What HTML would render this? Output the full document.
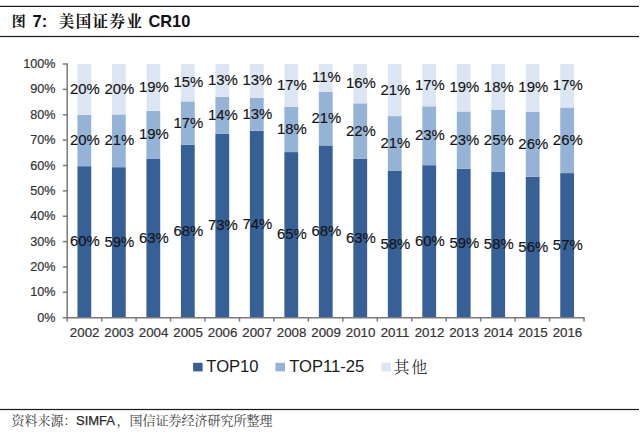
<!DOCTYPE html>
<html><head><meta charset="utf-8"><title>美国证券业 CR10</title>
<style>html,body{margin:0;padding:0;background:#fff;}body{width:640px;height:434px;overflow:hidden;}svg{display:block;}</style>
</head><body>
<svg width="640" height="434" viewBox="0 0 640 434">
<rect width="640" height="434" fill="#fff"/>
<rect x="0" y="5.8" width="639" height="1.2" fill="#1a1a1a"/>
<rect x="0" y="35.9" width="639" height="1.2" fill="#1a1a1a"/>
<rect x="0" y="408.9" width="639" height="1.2" fill="#1a1a1a"/>
<rect x="77.45" y="166.20" width="13.8" height="151.50" fill="#366096"/>
<rect x="77.45" y="114.80" width="13.8" height="51.40" fill="#95B3D7"/>
<rect x="77.45" y="64.00" width="13.8" height="50.80" fill="#DCE6F2"/>
<rect x="111.94" y="167.20" width="13.8" height="150.50" fill="#366096"/>
<rect x="111.94" y="114.40" width="13.8" height="52.80" fill="#95B3D7"/>
<rect x="111.94" y="64.00" width="13.8" height="50.40" fill="#DCE6F2"/>
<rect x="146.42" y="158.50" width="13.8" height="159.20" fill="#366096"/>
<rect x="146.42" y="110.80" width="13.8" height="47.70" fill="#95B3D7"/>
<rect x="146.42" y="64.00" width="13.8" height="46.80" fill="#DCE6F2"/>
<rect x="180.91" y="144.90" width="13.8" height="172.80" fill="#366096"/>
<rect x="180.91" y="101.40" width="13.8" height="43.50" fill="#95B3D7"/>
<rect x="180.91" y="64.00" width="13.8" height="37.40" fill="#DCE6F2"/>
<rect x="215.39" y="133.60" width="13.8" height="184.10" fill="#366096"/>
<rect x="215.39" y="96.90" width="13.8" height="36.70" fill="#95B3D7"/>
<rect x="215.39" y="64.00" width="13.8" height="32.90" fill="#DCE6F2"/>
<rect x="249.88" y="130.80" width="13.8" height="186.90" fill="#366096"/>
<rect x="249.88" y="97.90" width="13.8" height="32.90" fill="#95B3D7"/>
<rect x="249.88" y="64.00" width="13.8" height="33.90" fill="#DCE6F2"/>
<rect x="284.37" y="152.10" width="13.8" height="165.60" fill="#366096"/>
<rect x="284.37" y="107.00" width="13.8" height="45.10" fill="#95B3D7"/>
<rect x="284.37" y="64.00" width="13.8" height="43.00" fill="#DCE6F2"/>
<rect x="318.85" y="145.40" width="13.8" height="172.30" fill="#366096"/>
<rect x="318.85" y="91.80" width="13.8" height="53.60" fill="#95B3D7"/>
<rect x="318.85" y="64.00" width="13.8" height="27.80" fill="#DCE6F2"/>
<rect x="353.34" y="158.70" width="13.8" height="159.00" fill="#366096"/>
<rect x="353.34" y="103.30" width="13.8" height="55.40" fill="#95B3D7"/>
<rect x="353.34" y="64.00" width="13.8" height="39.30" fill="#DCE6F2"/>
<rect x="387.82" y="170.50" width="13.8" height="147.20" fill="#366096"/>
<rect x="387.82" y="116.10" width="13.8" height="54.40" fill="#95B3D7"/>
<rect x="387.82" y="64.00" width="13.8" height="52.10" fill="#DCE6F2"/>
<rect x="422.31" y="165.20" width="13.8" height="152.50" fill="#366096"/>
<rect x="422.31" y="106.30" width="13.8" height="58.90" fill="#95B3D7"/>
<rect x="422.31" y="64.00" width="13.8" height="42.30" fill="#DCE6F2"/>
<rect x="456.80" y="168.80" width="13.8" height="148.90" fill="#366096"/>
<rect x="456.80" y="111.50" width="13.8" height="57.30" fill="#95B3D7"/>
<rect x="456.80" y="64.00" width="13.8" height="47.50" fill="#DCE6F2"/>
<rect x="491.28" y="171.90" width="13.8" height="145.80" fill="#366096"/>
<rect x="491.28" y="110.00" width="13.8" height="61.90" fill="#95B3D7"/>
<rect x="491.28" y="64.00" width="13.8" height="46.00" fill="#DCE6F2"/>
<rect x="525.77" y="176.60" width="13.8" height="141.10" fill="#366096"/>
<rect x="525.77" y="111.80" width="13.8" height="64.80" fill="#95B3D7"/>
<rect x="525.77" y="64.00" width="13.8" height="47.80" fill="#DCE6F2"/>
<rect x="560.25" y="173.10" width="13.8" height="144.60" fill="#366096"/>
<rect x="560.25" y="107.50" width="13.8" height="65.60" fill="#95B3D7"/>
<rect x="560.25" y="64.00" width="13.8" height="43.50" fill="#DCE6F2"/>
<g stroke="#7a7a7a" stroke-width="1.5" fill="none">
<path d="M67.2 63.4 V317.7 H584.7"/>
<path d="M62.800000000000004 64.00 H67.2"/>
<path d="M62.800000000000004 89.37 H67.2"/>
<path d="M62.800000000000004 114.74 H67.2"/>
<path d="M62.800000000000004 140.11 H67.2"/>
<path d="M62.800000000000004 165.48 H67.2"/>
<path d="M62.800000000000004 190.85 H67.2"/>
<path d="M62.800000000000004 216.22 H67.2"/>
<path d="M62.800000000000004 241.59 H67.2"/>
<path d="M62.800000000000004 266.96 H67.2"/>
<path d="M62.800000000000004 292.33 H67.2"/>
<path d="M62.800000000000004 317.70 H67.2"/>
<path d="M67.20 317.7 V321.5"/>
<path d="M101.65 317.7 V321.5"/>
<path d="M136.11 317.7 V321.5"/>
<path d="M170.56 317.7 V321.5"/>
<path d="M205.01 317.7 V321.5"/>
<path d="M239.47 317.7 V321.5"/>
<path d="M273.92 317.7 V321.5"/>
<path d="M308.37 317.7 V321.5"/>
<path d="M342.83 317.7 V321.5"/>
<path d="M377.28 317.7 V321.5"/>
<path d="M411.73 317.7 V321.5"/>
<path d="M446.19 317.7 V321.5"/>
<path d="M480.64 317.7 V321.5"/>
<path d="M515.09 317.7 V321.5"/>
<path d="M549.55 317.7 V321.5"/>
<path d="M584.00 317.7 V321.5"/>
</g>
<g font-family="'Liberation Sans', Arial, sans-serif" font-size="12.6" fill="#333" stroke="#333" stroke-width="0.2" text-anchor="end">
<text x="55.5" y="321.80">0%</text>
<text x="55.5" y="296.43">10%</text>
<text x="55.5" y="271.06">20%</text>
<text x="55.5" y="245.69">30%</text>
<text x="55.5" y="220.32">40%</text>
<text x="55.5" y="194.95">50%</text>
<text x="55.5" y="169.58">60%</text>
<text x="55.5" y="144.21">70%</text>
<text x="55.5" y="118.84">80%</text>
<text x="55.5" y="93.47">90%</text>
<text x="55.5" y="68.10">100%</text>
</g>
<g font-family="'Liberation Sans', Arial, sans-serif" font-size="13.3" fill="#333" stroke="#333" stroke-width="0.2" text-anchor="middle">
<text x="84.65" y="337.3">2002</text>
<text x="119.14" y="337.3">2003</text>
<text x="153.62" y="337.3">2004</text>
<text x="188.11" y="337.3">2005</text>
<text x="222.59" y="337.3">2006</text>
<text x="257.08" y="337.3">2007</text>
<text x="291.57" y="337.3">2008</text>
<text x="326.05" y="337.3">2009</text>
<text x="360.54" y="337.3">2010</text>
<text x="395.02" y="337.3">2011</text>
<text x="429.51" y="337.3">2012</text>
<text x="464.00" y="337.3">2013</text>
<text x="498.48" y="337.3">2014</text>
<text x="532.97" y="337.3">2015</text>
<text x="567.45" y="337.3">2016</text>
</g>
<g font-family="'Liberation Sans', Arial, sans-serif" font-size="14.9" fill="#141414" stroke="#141414" stroke-width="0.15" text-anchor="middle">
<text x="84.95" y="246.45">60%</text>
<text x="84.95" y="145.00">20%</text>
<text x="84.95" y="93.90">20%</text>
<text x="119.44" y="246.95">59%</text>
<text x="119.44" y="145.30">21%</text>
<text x="119.44" y="93.70">20%</text>
<text x="153.92" y="242.60">63%</text>
<text x="153.92" y="139.15">19%</text>
<text x="153.92" y="91.90">19%</text>
<text x="188.41" y="235.80">68%</text>
<text x="188.41" y="127.65">17%</text>
<text x="188.41" y="87.20">15%</text>
<text x="222.89" y="230.15">73%</text>
<text x="222.89" y="119.75">14%</text>
<text x="222.89" y="84.95">13%</text>
<text x="257.38" y="228.75">74%</text>
<text x="257.38" y="118.85">13%</text>
<text x="257.38" y="85.45">13%</text>
<text x="291.87" y="239.40">65%</text>
<text x="291.87" y="134.05">18%</text>
<text x="291.87" y="90.00">17%</text>
<text x="326.35" y="236.05">68%</text>
<text x="326.35" y="123.10">21%</text>
<text x="326.35" y="82.40">11%</text>
<text x="360.84" y="242.70">63%</text>
<text x="360.84" y="135.50">22%</text>
<text x="360.84" y="88.15">16%</text>
<text x="395.32" y="248.60">58%</text>
<text x="395.32" y="147.80">21%</text>
<text x="395.32" y="94.55">21%</text>
<text x="429.81" y="245.95">60%</text>
<text x="429.81" y="140.25">23%</text>
<text x="429.81" y="89.65">17%</text>
<text x="464.30" y="247.75">59%</text>
<text x="464.30" y="144.65">23%</text>
<text x="464.30" y="92.25">19%</text>
<text x="498.78" y="249.30">58%</text>
<text x="498.78" y="145.45">25%</text>
<text x="498.78" y="91.50">18%</text>
<text x="533.27" y="251.65">56%</text>
<text x="533.27" y="148.70">26%</text>
<text x="533.27" y="92.40">19%</text>
<text x="567.75" y="249.90">57%</text>
<text x="567.75" y="144.80">26%</text>
<text x="567.75" y="90.25">17%</text>
</g>
<rect x="193.1" y="362.8" width="9.5" height="8.6" fill="#366096"/>
<rect x="275.4" y="362.8" width="9.6" height="8.6" fill="#95B3D7"/>
<rect x="381.4" y="362.8" width="9.5" height="8.6" fill="#DCE6F2"/>
<g font-family="'Liberation Sans', Arial, sans-serif" font-size="16.6" fill="#1a1a1a">
<text x="206.3" y="372">TOP10</text>
<text x="289.2" y="372">TOP11-25</text>
</g>
<text x="393.4" y="372.5" font-family="'Liberation Serif', 'Noto Serif CJK SC', serif" font-size="16" font-weight="300" fill="#111" letter-spacing="1.8">其他</text>
<text x="11.8" y="26.4" font-family="'Liberation Serif', 'Noto Serif CJK SC', serif" font-size="14" font-weight="bold" fill="#111">图</text>
<text x="32.6" y="27.3" font-family="'Liberation Sans', Arial, sans-serif" font-size="16.6" font-weight="bold" fill="#111">7:</text>
<text x="58.8" y="26.6" font-family="'Liberation Serif', 'Noto Serif CJK SC', serif" font-size="15.5" font-weight="bold" fill="#111" letter-spacing="1.4">美国证券业</text>
<text x="148.4" y="27.3" font-family="'Liberation Sans', Arial, sans-serif" font-size="16.4" font-weight="bold" fill="#111">CR10</text>
<text x="11.6" y="424.9" font-size="13" fill="#3a3a3a" font-family="'Liberation Serif', 'Noto Serif CJK SC', serif">资料来源：</text>
<text x="76" y="424.9" font-size="13" fill="#2a2a2a" stroke="#2a2a2a" stroke-width="0.25" font-family="'Liberation Sans', Arial, sans-serif">SIMFA</text>
<text x="116.5" y="424.9" font-size="13" fill="#3a3a3a" font-family="'Liberation Serif', 'Noto Serif CJK SC', serif">，国信证券经济研究所整理</text>
</svg>
</body></html>
